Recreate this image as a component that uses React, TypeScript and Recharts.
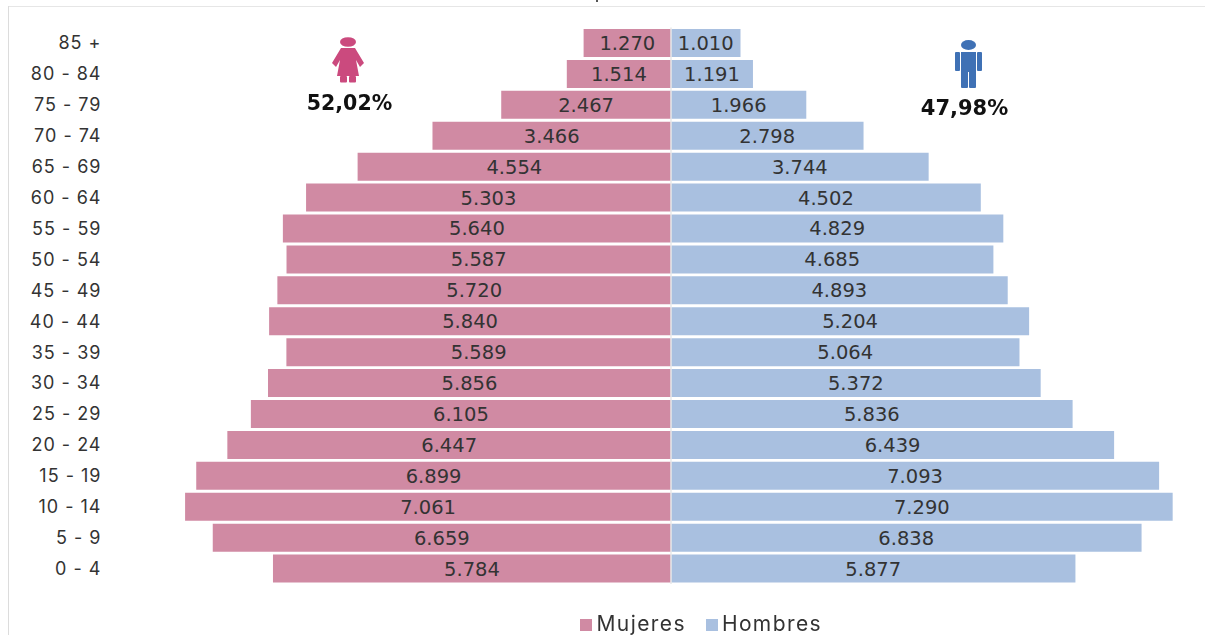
import React from 'react';
import { BarChart, Bar, XAxis, YAxis, LabelList, Legend, ReferenceLine } from 'recharts';

const ageGroups = ['85 +', '80 - 84', '75 - 79', '70 - 74', '65 - 69', '60 - 64', '55 - 59', '50 - 54', '45 - 49', '40 - 44', '35 - 39', '30 - 34', '25 - 29', '20 - 24', '15 - 19', '10 - 14', '5 - 9', '0 - 4'];
const mujeres = [1270, 1514, 2467, 3466, 4554, 5303, 5640, 5587, 5720, 5840, 5589, 5856, 6105, 6447, 6899, 7061, 6659, 5784];
const hombres = [1010, 1191, 1966, 2798, 3744, 4502, 4829, 4685, 4893, 5204, 5064, 5372, 5836, 6439, 7093, 7290, 6838, 5877];

const data = ageGroups.map((age, i) => ({ age, Mujeres: -mujeres[i], Hombres: hombres[i] }));

const valueFont = '"DejaVu Sans", sans-serif';
const tickFont = 'Inter, sans-serif';

// es-style thousands: 5784 -> 5.784
const formatValue = (v: number) => {
  const s = String(Math.abs(v));
  return s.slice(0, -3) + '.' + s.slice(-3);
};

const valueStyle = { fontFamily: valueFont, fontSize: 19.5, fill: '#333' };

function Decorations() {
  return (
    <svg width={1205} height={635} style={{ position: 'absolute', left: 0, top: 0, pointerEvents: 'none' }}>
      <line x1={8} y1={6.5} x2={1205} y2={6.5} stroke="#e6e6e6" />
      <line x1={8.5} y1={6} x2={8.5} y2={635} stroke="#dcdcdc" />
      <rect x={596} y={0} width={2} height={2} fill="#555" />

      <g fill="#cb4a7e">
        <ellipse cx={348} cy={42} rx={8} ry={4.8} />
        <path d="M341 48 L355 48 L364 63 L360 67 L356 60 L359 76 L337 76 L340 60 L336 67 L332 63 Z" />
        <rect x={340} y={76} width={7} height={6.5} rx={1} />
        <rect x={349} y={76} width={7} height={6.5} rx={1} />
      </g>
      <text x={349.5} y={110} textAnchor="middle" fontFamily={valueFont} fontWeight={700} fontSize={20.5} fill="#111">52,02%</text>

      <g fill="#3f71b5">
        <ellipse cx={968.5} cy={45} rx={7.5} ry={5} />
        <rect x={955} y={52} width={5} height={19} rx={1} />
        <rect x={977} y={52} width={5} height={19} rx={1} />
        <rect x={961} y={52} width={15} height={20} />
        <rect x={961} y={70} width={7} height={18} rx={1} />
        <rect x={969} y={70} width={7} height={18} rx={1} />
      </g>
      <text x={964.5} y={115} textAnchor="middle" fontFamily={valueFont} fontWeight={700} fontSize={21} fill="#111">47,98%</text>
    </svg>
  );
}

export default function App() {
  return (
    <div style={{ position: 'fixed', left: 0, top: 0, width: 1205, height: 635, background: '#fff' }}>
      <BarChart
        width={1205}
        height={635}
        data={data}
        layout="vertical"
        stackOffset="sign"
        barCategoryGap={1.5}
        margin={{ top: 27.5, right: 16.5, left: 0, bottom: 21 }}>
        <XAxis type="number" domain={[-7520, 7520]} hide />
        <YAxis
          type="category"
          dataKey="age"
          width={153.5}
          axisLine={false}
          tickLine={false}
          tickMargin={46}
          interval={0}
          tick={{ fontFamily: tickFont, fontSize: 18, fill: '#333', letterSpacing: 1 }}
        />
        <Bar dataKey="Mujeres" stackId="a" fill="#d08aa3" isAnimationActive={false}>
          <LabelList dataKey="Mujeres" position="center" formatter={formatValue} style={valueStyle} />
        </Bar>
        <Bar dataKey="Hombres" stackId="a" fill="#a9c0e0" isAnimationActive={false}>
          <LabelList dataKey="Hombres" position="center" formatter={formatValue} style={valueStyle} />
        </Bar>
        <ReferenceLine x={0} stroke="#e8e8e8" strokeWidth={1.5} />
        <Legend
          verticalAlign="bottom"
          iconType="square"
          iconSize={12}
          height={30}
          itemSorter={(item: any) => (item.value === 'Mujeres' ? 0 : 1)}
          wrapperStyle={{ fontFamily: tickFont, fontSize: 21, letterSpacing: 1.4, left: 112, bottom: -6 }}
          formatter={(value: string) => (
            <span style={{ color: '#333', paddingRight: value === 'Mujeres' ? 10 : 0 }}>{value}</span>
          )}
        />
      </BarChart>
      <Decorations />
    </div>
  );
}
